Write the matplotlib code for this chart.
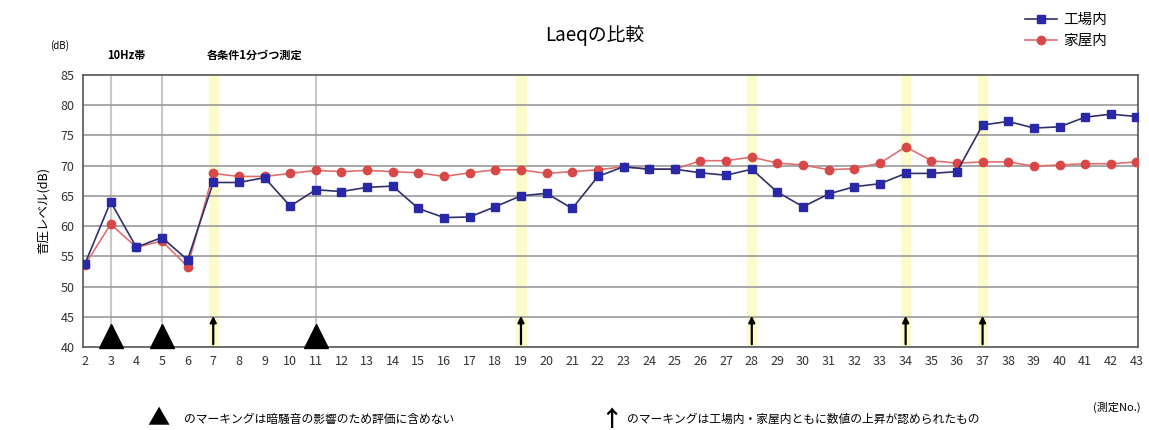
import numpy as np
import matplotlib
matplotlib.use("Agg")
from matplotlib import pyplot as plt

plt.rcParams['font.family'] = ['Noto Sans CJK JP', 'DejaVu Sans']

# measurement numbers 2..43
meas_no = list(range(2, 44))
# 工場内 (factory)
factory = [53.8, 64.0, 56.5, 58.1, 54.4, 67.2, 67.2, 68.0, 63.3, 66.0,
           65.7, 66.4, 66.6, 62.9, 61.4, 61.5, 63.2, 65.0, 65.4, 62.9,
           68.2, 69.8, 69.4, 69.4, 68.8, 68.4, 69.4, 65.6, 63.2, 65.3,
           66.5, 67.0, 68.7, 68.7, 69.0, 76.7, 77.3, 76.2, 76.4, 78.0,
           78.5, 78.1]
# 家屋内 (house)
house = [53.6, 60.3, 56.5, 57.5, 53.3, 68.7, 68.2, 68.2, 68.7, 69.2,
         69.0, 69.2, 69.0, 68.8, 68.2, 68.8, 69.3, 69.3, 68.7, 69.0,
         69.3, 69.8, 69.4, 69.4, 70.8, 70.8, 71.4, 70.4, 70.1, 69.3,
         69.5, 70.4, 73.1, 70.8, 70.4, 70.6, 70.6, 69.9, 70.1, 70.3,
         70.3, 70.6]

grey_lines = [3, 5, 11]          # 暗騒音 markings
triangle_no = [3, 5, 11]
yellow_bands = [7, 19, 28, 34, 37]
arrow_no = [7, 19, 28, 34, 37]

fig = plt.figure(figsize=(11.49, 4.30), dpi=100)
ax = fig.add_axes([0.0722, 0.193, 0.918, 0.633])

# background markings
for x in yellow_bands:
    ax.axvspan(x - 0.18, x + 0.18, color='#fbfbcc', zorder=0)
for x in grey_lines:
    ax.axvline(x, color='#c8c8c8', lw=1.5, zorder=1)
for y in range(45, 85, 5):
    ax.axhline(y, color='#9a9a9a', lw=1.2, zorder=1)

ax.plot(meas_no, house, color='#e07070', lw=1.2, marker='o', ms=6,
        mfc='#d84848', mec='#d84848', label='家屋内', zorder=3)
ax.plot(meas_no, factory, color='#30306a', lw=1.2, marker='s', ms=6,
        mfc='#2828a8', mec='#2828a8', label='工場内', zorder=4)

ax.plot(triangle_no, [41.9] * len(triangle_no), linestyle='none', marker='^',
        ms=17, color='black', zorder=5, clip_on=False)
for x in arrow_no:
    ax.annotate('', xy=(x, 45.6), xytext=(x, 40),
                arrowprops=dict(arrowstyle='-|>', color='black', lw=1.6,
                                mutation_scale=9), zorder=5)

ax.set_xlim(1.92, 43.05)
ax.set_ylim(40, 85)
ax.set_xticks(meas_no)
ax.set_yticks(range(40, 90, 5))
ax.tick_params(labelsize=9, length=0, pad=6, labelcolor='#333333')
for s in ax.spines.values():
    s.set_color('#555555')
    s.set_linewidth(1.2)

ax.set_ylabel('音圧レベル(dB)', fontsize=9, labelpad=8)

handles, labels = ax.get_legend_handles_labels()
fig.legend(handles[::-1], labels[::-1], loc='upper right',
           bbox_to_anchor=(0.975, 1.0), frameon=False, fontsize=10.5,
           handlelength=2.2, handletextpad=0.4, labelspacing=0.45)

fig.text(0.518, 0.918, 'Laeqの比較', ha='center', va='center', fontsize=13.5)
fig.text(0.052, 0.895, '(dB)', ha='center', va='center', fontsize=7)
fig.text(0.11, 0.872, '10Hz帯', ha='center', va='center', fontsize=8,
         fontweight='bold')
fig.text(0.222, 0.872, '各条件1分づつ測定', ha='center', va='center',
         fontsize=8, fontweight='bold')
fig.text(0.972, 0.052, '(測定No.)', ha='center', va='center', fontsize=8)

fig.text(0.138, 0.025, '▲', ha='center', va='center', fontsize=16)
fig.text(0.16, 0.025, 'のマーキングは暗騒音の影響のため評価に含めない',
         ha='left', va='center', fontsize=8.5)
fig.text(0.532, 0.025, '↑', ha='center', va='center', fontsize=16,
         fontweight='bold')
fig.text(0.546, 0.025, 'のマーキングは工場内・家屋内ともに数値の上昇が認められたもの',
         ha='left', va='center', fontsize=8.5)

fig.savefig('out.png', dpi=100)
